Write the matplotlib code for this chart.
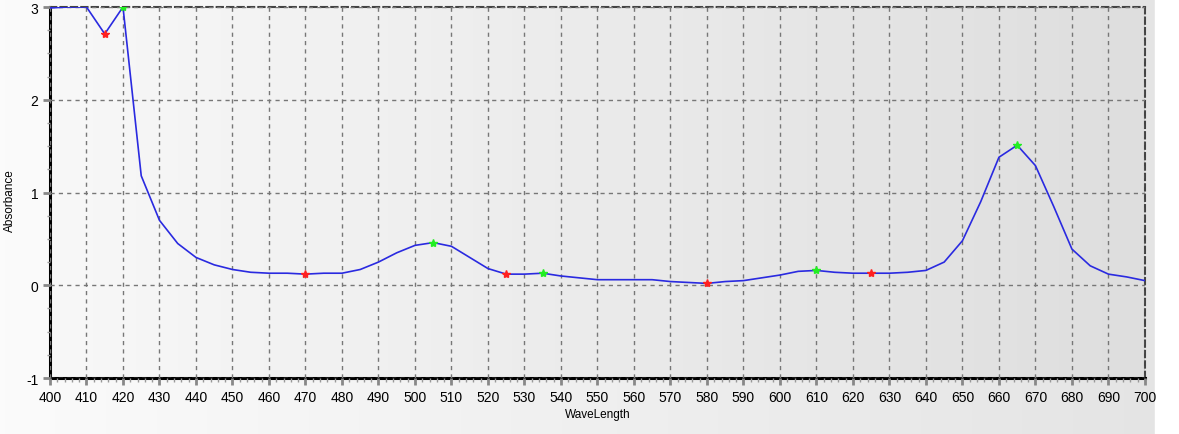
import numpy as np
import matplotlib as mpl
mpl.use("Agg")
from matplotlib import pyplot as plt
from matplotlib.ticker import MultipleLocator

# spectrum, one point every 5 nm
wavelength = [400, 405, 410, 415, 420, 425, 430, 435, 440, 445, 450, 455, 460,
              465, 470, 475, 480, 485, 490, 495, 500, 505, 510, 515, 520, 525,
              530, 535, 540, 545, 550, 555, 560, 565, 570, 575, 580, 585, 590,
              595, 600, 605, 610, 615, 620, 625, 630, 635, 640, 645, 650, 655,
              660, 665, 670, 675, 680, 685, 690, 695, 700]
absorbance = [2.99, 3.0, 3.0, 2.71, 3.0, 1.18, 0.70, 0.45, 0.30, 0.22, 0.17, 0.14, 0.13,
              0.13, 0.12, 0.13, 0.13, 0.17, 0.25, 0.35, 0.43, 0.46, 0.42, 0.30, 0.18, 0.12,
              0.12, 0.13, 0.10, 0.08, 0.06, 0.06, 0.06, 0.06, 0.04, 0.03, 0.02, 0.04, 0.05,
              0.08, 0.11, 0.15, 0.16, 0.14, 0.13, 0.13, 0.13, 0.14, 0.16, 0.25, 0.48, 0.90,
              1.38, 1.51, 1.29, 0.85, 0.39, 0.21, 0.12, 0.09, 0.05]

# valleys (red) and peaks (green)
valley_x = [415, 470, 525, 580, 625]
valley_y = [2.71, 0.12, 0.12, 0.02, 0.13]
peak_x = [420, 505, 535, 610, 665]
peak_y = [3.0, 0.46, 0.13, 0.16, 1.51]

plt.rcParams['font.family'] = ['Liberation Sans', 'DejaVu Sans']
plt.rcParams['axes.unicode_minus'] = False

f = plt.figure(figsize=(11.79, 4.35), dpi=100)
# figure background gradient
bg = f.add_axes([0, 0, 1, 1])
bg.imshow(np.linspace(0, 1, 256).reshape(1, -1), aspect='auto', extent=[0, 1, 0, 1],
          cmap=mpl.colors.LinearSegmentedColormap.from_list('g', ['#fbfbfb', '#e4e4e4']))
bg.axvspan(0.98, 1, color='white')
bg.set_axis_off()

ax = f.add_axes([0.0424, 0.1287, 0.9287, 0.8529])
ax.imshow(np.linspace(0, 1, 256).reshape(1, -1), aspect='auto', extent=[400, 700, -1, 3],
          cmap=mpl.colors.LinearSegmentedColormap.from_list('a', ['#f8f8f8', '#dedede']),
          zorder=0)

ax.plot(wavelength, absorbance, color='#2a2ae0', linewidth=1.2, zorder=3)
ax.plot(valley_x, valley_y, linestyle='none', marker='*', color='#ff2020',
        markersize=6, zorder=4)
ax.plot(peak_x, peak_y, linestyle='none', marker='*', color='#22ee22',
        markersize=6, zorder=4)

ax.set_xlim(400, 700)
ax.set_ylim(-1, 3)
ax.xaxis.set_major_locator(MultipleLocator(10))
ax.xaxis.set_minor_locator(MultipleLocator(2))
ax.yaxis.set_major_locator(MultipleLocator(1))
ax.yaxis.set_minor_locator(MultipleLocator(0.25))
ax.grid(True, which='major', linestyle=(0, (3, 3)), color='#777777', linewidth=1)
ax.set_axisbelow(False)

for s in ['left', 'bottom']:
    ax.spines[s].set_linewidth(2.2)
    ax.spines[s].set_color('black')
for s in ['top', 'right']:
    ax.spines[s].set_linestyle((0, (3, 2)))
    ax.spines[s].set_color('#444444')
    ax.spines[s].set_linewidth(1.5)

ax.tick_params(axis='both', which='major', labelsize=10, color='#888888',
               length=5, width=2)
ax.tick_params(axis='both', which='minor', color='#999999', length=3, width=1)
ax.tick_params(axis='y', which='minor', length=2)

ax.set_xlabel('WaveLength', fontsize=8.5, labelpad=3)
ax.set_ylabel('Absorbance', fontsize=8.5)
ax.yaxis.set_label_coords(-0.031, 0.48)

f.savefig('out.png', dpi=100)
